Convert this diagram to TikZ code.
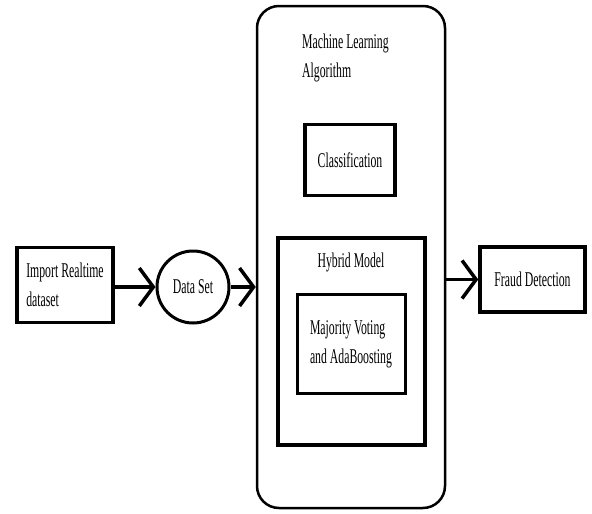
\documentclass[tikz,border=0pt]{standalone}
\usepackage{fontspec}
\newfontfamily\diagfont{Liberation Serif}[FakeStretch=0.56]
\usetikzlibrary{arrows.meta}

\begin{document}
\begin{tikzpicture}[x=1pt, y=-1pt,
  every node/.style={font=\diagfont\fontsize{21}{29}\selectfont, inner sep=0pt},
  blk/.style={draw, line width=3.5pt, minimum width=#1},
  flow/.style={line width=3.5pt, -{Straight Barb[length=14pt, width=38pt]}}]
\useasboundingbox (0,0) rectangle (592,514);

% outer algorithm block
\node[draw, line width=2.5pt, rounded corners=22pt, minimum width=188pt, minimum height=502pt] (mla) at (351,257) {};
\node[anchor=north west, align=left] (mlatitle) at (302,34) {Machine Learning\\Algorithm};

\node[blk=90pt, minimum height=71pt] (cls) at (350,160) {Classification};

\node[blk=147pt, minimum height=207pt] (hyb) at (351.5,341.5) {};
\node (hybtitle) at (351,262) {Hybrid Model};
\node[blk=108pt, minimum height=99pt, line width=3pt, align=left] (vote) at (351,344) {Majority Voting\\and AdaBoosting};

% input side
\node[blk=96pt, minimum height=75pt, align=left] (imp) at (65,285) {Import Realtime\\dataset};
\node[draw, circle, line width=3pt, minimum size=72pt] (ds) at (193,287) {Data Set};

% output
\node[blk=105pt, minimum height=65pt] (fraud) at (532.5,279.5) {Fraud Detection};

\draw[flow] (imp.east |- ds) -- (ds.west);
\draw[flow] (ds.east) -- (ds.east -| mla.west);
\draw[flow] (mla.east |- fraud.west) -- (fraud.west);

\end{tikzpicture}
\end{document}
